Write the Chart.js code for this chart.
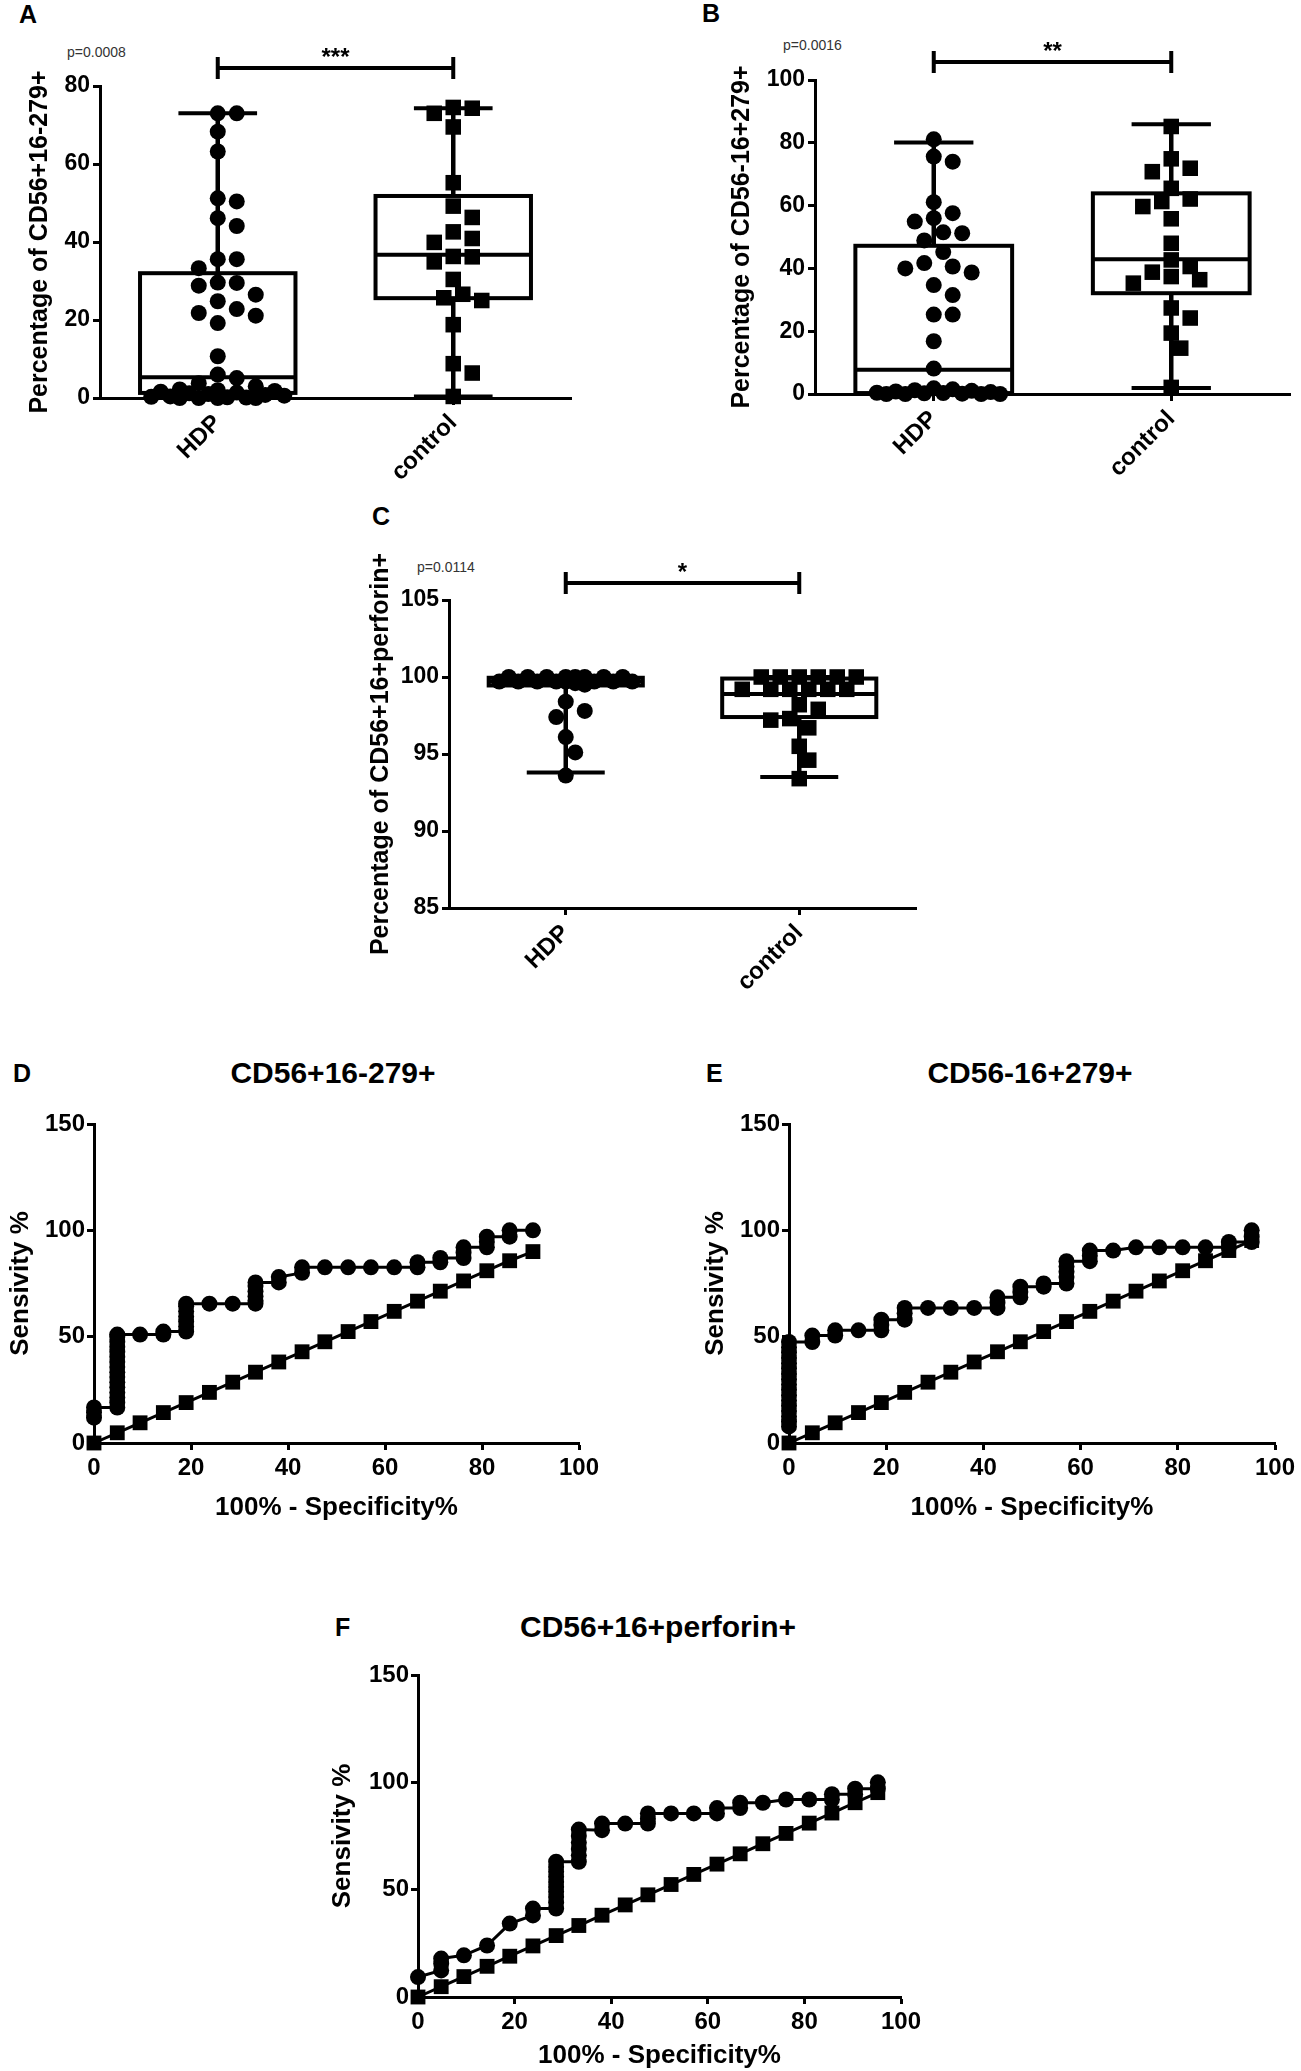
<!DOCTYPE html>
<html>
<head>
<meta charset="utf-8">
<script src="https://cdn.jsdelivr.net/npm/chart.js@4.4.1/dist/chart.umd.min.js"></script>
<style>
html, body { margin: 0; padding: 0; background: #fff; }
body { width: 1301px; height: 2071px; position: relative; overflow: hidden; font-family: 'Liberation Sans', Arial, sans-serif; color: #000; }
.panel { position: absolute; }
.letter { position: absolute; font-weight: bold; font-size: 25px; line-height: 1; }
.pval { position: absolute; font-size: 14px; line-height: 1; color: #333; }
.title { position: absolute; font-weight: bold; font-size: 30px; line-height: 1; white-space: nowrap; transform: translate(-50%, -50%); }
</style>
</head>
<body>

<div class="letter" style="left:19px;top:2px">A</div>
<div class="letter" style="left:702px;top:1px">B</div>
<div class="letter" style="left:372px;top:504px">C</div>
<div class="letter" style="left:13px;top:1061px">D</div>
<div class="letter" style="left:706px;top:1061px">E</div>
<div class="letter" style="left:335px;top:1615px">F</div>

<div class="pval" style="left:67px;top:45px">p=0.0008</div>
<div class="pval" style="left:783px;top:38px">p=0.0016</div>
<div class="pval" style="left:417px;top:560px">p=0.0114</div>

<div class="title" style="left:333px;top:1073px">CD56+16-279+</div>
<div class="title" style="left:1030px;top:1073px">CD56-16+279+</div>
<div class="title" style="left:658px;top:1627px">CD56+16+perforin+</div>

<div class="panel" id="wrapA"><canvas id="chartA"></canvas></div>
<div class="panel" id="wrapB"><canvas id="chartB"></canvas></div>
<div class="panel" id="wrapC"><canvas id="chartC"></canvas></div>
<div class="panel" id="wrapD"><canvas id="chartD"></canvas></div>
<div class="panel" id="wrapE"><canvas id="chartE"></canvas></div>
<div class="panel" id="wrapF"><canvas id="chartF"></canvas></div>

<script>
// ---- data ----
const groups = ['HDP', 'control'];

// A: CD56+16-279+
const pctA_hdp = [73, 73, 68.3, 63.2, 51.2, 50.4, 46.1, 44.1, 35.6, 35.6, 33.3, 29.6, 29.5, 28.8, 26.5,
    24.8, 22.8, 21.8, 21.1, 19.2, 10.7, 6.0, 5.1, 3.8, 3.0, 2.2, 2.0, 1.8, 1.6, 1.4, 1.2, 1.0, 0.8,
    0.6, 0.4, 0.3, 0.2, 0.1, 0, 0, 0, 0];
const pctA_control = [74.5, 74.3, 73.0, 69.5, 55.2, 49.2, 46.3, 42.6, 40.9, 39.9, 36.3, 36.2, 34.9,
    30.4, 26.6, 25.7, 25.0, 18.8, 8.8, 6.4, 0.4];
const boxA_hdp = [0, 1.3, 5.3, 32, 73];          // min, q1, median, q3, max
const boxA_control = [0.4, 25.6, 36.7, 51.8, 74.3];
const yTicksA = [0, 20, 40, 60, 80];
const sigA = 84.6;

// B: CD56-16+279+
const pctB_hdp = [81.1, 75.6, 74.0, 61.1, 57.6, 56.0, 54.9, 51.5, 51.2, 48.9, 45.2, 41.7, 40.6, 40.0,
    38.7, 34.7, 31.5, 25.3, 25.3, 16.8, 8.1, 1.8, 1.5, 1.2, 1.0, 0.8, 0.6, 0.4, 0.3, 0.2, 0.1, 0, 0, 0, 0];
const pctB_control = [85.2, 74.9, 71.9, 70.8, 65.5, 62.1, 61.3, 59.7, 55.8, 48.0, 42.7, 40.6, 38.8,
    37.4, 36.4, 35.3, 27.4, 24.2, 19.4, 14.6, 2.1];
const boxB_hdp = [0, 0.3, 7.7, 47.2, 80.1];
const boxB_control = [1.9, 32.1, 42.9, 63.9, 85.9];
const yTicksB = [0, 20, 40, 60, 80, 100];
const sigB = 105.7;

// C: CD56+16+perforin+
const pctC_hdp = [100, 100, 100, 100, 100, 100, 100, 100, 99.7, 99.7, 99.7, 99.7, 99.7, 99.7, 99.7,
    99.7, 99.6, 99.5, 98.4, 97.8, 97.4, 96.1, 95.1, 93.6];
const pctC_control = [100, 100, 100, 100, 100, 100, 99.2, 99.2, 99.2, 99.2, 99.2, 99.2, 98.2, 97.9,
    97.3, 97.2, 96.7, 95.5, 94.6, 93.4];
const boxC_hdp = [93.8, 99.45, 99.7, 99.95, 100];
const boxC_control = [93.5, 97.4, 98.9, 99.9, 100];
const yTicksC = [85, 90, 95, 100, 105];
const sigC = 106.1;

// ROC curves: 100% - specificity (x) and sensitivity (y)
const rocD_x = [0, 0, 0, 4.8, 4.8, 4.8, 4.8, 4.8, 4.8, 4.8, 4.8, 4.8, 4.8, 4.8, 4.8, 4.8, 4.8, 4.8, 4.8,
    9.5, 14.3, 14.3, 19, 19, 19, 19, 19, 19, 19, 23.8, 28.6, 33.3, 33.3, 33.3, 33.3, 33.3, 33.3,
    38.1, 38.1, 42.9, 42.9, 47.6, 52.4, 57.1, 61.9, 66.7, 66.7, 71.4, 71.4, 76.2, 76.2, 76.2,
    81, 81, 81, 85.7, 85.7, 90.5];
const rocD_y = [11.9, 14.3, 16.7, 16.7, 19, 21.4, 23.8, 26.2, 28.6, 31, 33.3, 35.7, 38.1, 40.5, 42.9,
    45.2, 47.6, 50, 51, 51, 51, 52.4, 52.4, 54.8, 57.1, 59.5, 61.9, 64.3, 65.5, 65.5, 65.5, 65.5,
    67, 69, 71.4, 73.8, 75.5, 75.5, 78, 80, 82.6, 82.6, 82.6, 82.6, 82.6, 82.6, 85, 85, 87, 87,
    89.5, 92, 92, 94.5, 97, 97, 100, 100];
const refD_x = [0, 4.8, 9.5, 14.3, 19, 23.8, 28.6, 33.3, 38.1, 42.9, 47.6, 52.4, 57.1, 61.9, 66.7,
    71.4, 76.2, 81, 85.7, 90.5];
const refD_y = [0, 4.8, 9.5, 14.3, 19, 23.8, 28.6, 33.3, 38.1, 42.9, 47.6, 52.4, 57.1, 61.9, 66.7,
    71.4, 76.2, 81, 85.7, 90];

const rocE_x = [0, 0, 0, 0, 0, 0, 0, 0, 0, 0, 0, 0, 0, 0, 0, 0, 0, 4.8, 4.8, 9.5, 9.5, 14.3, 19, 19, 19,
    23.8, 23.8, 23.8, 28.6, 33.3, 38.1, 42.9, 42.9, 42.9, 47.6, 47.6, 47.6, 52.4, 52.4,
    57.1, 57.1, 57.1, 57.1, 57.1, 61.9, 61.9, 61.9, 66.7, 71.4, 76.2, 81, 85.7, 90.5, 90.5,
    95.2, 95.2, 95.2];
const rocE_y = [7.8, 10, 12.5, 15, 17.5, 20, 22.5, 25, 27.5, 30, 32.5, 35, 37.5, 40, 42.5, 45, 47.5,
    47.5, 50.5, 50.5, 53, 53, 53, 55.5, 58, 58, 61, 63.5, 63.5, 63.5, 63.5, 63.5, 66, 68.5,
    68.5, 71, 73.5, 73.5, 75, 75, 78, 80.5, 83, 85.5, 85.5, 88, 90.5, 90.5, 92, 92, 92, 92,
    92, 94.5, 94.5, 97, 100];
const refEF_x = [0, 4.8, 9.5, 14.3, 19, 23.8, 28.6, 33.3, 38.1, 42.9, 47.6, 52.4, 57.1, 61.9, 66.7,
    71.4, 76.2, 81, 85.7, 90.5, 95.2];
const refEF_y = [0, 4.8, 9.5, 14.3, 19, 23.8, 28.6, 33.3, 38.1, 42.9, 47.6, 52.4, 57.1, 61.9, 66.7,
    71.4, 76.2, 81, 85.7, 90.5, 95.2];

const rocF_x = [0, 4.8, 4.8, 4.8, 9.5, 14.3, 19, 23.8, 23.8, 28.6, 28.6, 28.6, 28.6, 28.6, 28.6, 28.6,
    28.6, 28.6, 28.6, 33.3, 33.3, 33.3, 33.3, 33.3, 33.3, 38.1, 38.1, 42.9, 47.6, 47.6, 47.6,
    52.4, 57.1, 61.9, 61.9, 66.7, 66.7, 71.4, 76.2, 81, 85.7, 85.7, 90.5, 90.5, 95.2, 95.2];
const rocF_y = [9.3, 12.4, 15.5, 17.9, 19.4, 24, 34.2, 38, 41.2, 41.2, 44, 46.6, 49, 51.3, 53.6, 56,
    58.3, 60.6, 63, 63, 66, 69, 72, 75, 78, 77.7, 80.8, 80.8, 80.8, 83, 85.5, 85.5, 85.5, 85.5,
    88, 88, 90.5, 90.5, 92, 92, 92, 94.5, 94.5, 97, 97, 100];

const rocXTicks = [0, 20, 40, 60, 80, 100];
const rocYTicks = [0, 50, 100, 150];

// ---- chart setup ----
Chart.defaults.animation = false;
Chart.defaults.color = '#000';
Chart.defaults.font.family = "'Liberation Sans', Arial, sans-serif";
Chart.defaults.plugins.legend.display = false;
Chart.defaults.plugins.tooltip.enabled = false;

const FONT = "'Liberation Sans', Arial, sans-serif";

function placeWrap(id, g) {
    const el = document.getElementById(id);
    el.style.left = g.cl + 'px';
    el.style.top = g.ct + 'px';
    el.style.width = g.cw + 'px';
    el.style.height = g.ch + 'px';
}

// spread points sideways so they don't sit on top of each other
function swarm(values, center, xpx, ypx, diam) {
    const step = 9.5;
    const placed = [];
    const out = new Array(values.length);
    const order = values.map((v, i) => i).sort((a, b) => values[b] - values[a]);
    order.forEach(i => {
        const py = values[i] * ypx;
        let best = 0, bestD = -1;
        for (let k = 0; k <= 14; k++) {
            const off = (k % 2 ? 1 : -1) * Math.ceil(k / 2) * step;
            let dmin = Infinity;
            placed.forEach(p => { dmin = Math.min(dmin, Math.hypot(p.px - off, p.py - py)); });
            if (dmin >= diam) { best = off; break; }
            if (dmin > bestD) { bestD = dmin; best = off; }
        }
        placed.push({ px: best, py: py });
        out[i] = { x: center + best / xpx, y: values[i] };
    });
    return out;
}

const boxPlugin = {
    id: 'boxes',
    beforeDatasetsDraw(chart, args, opts) {
        if (!opts.stats) return;
        const ctx = chart.ctx;
        const x = chart.scales.x, y = chart.scales.y;
        ctx.save();
        ctx.strokeStyle = '#000';
        ctx.lineCap = 'butt';
        opts.stats.forEach((s, i) => {
            const cx = x.getPixelForValue(i + 1);
            const hw = x.getPixelForValue(i + 1 + opts.boxHalf) - cx;
            const cw = x.getPixelForValue(i + 1 + opts.capHalf) - cx;
            const mn = y.getPixelForValue(s[0]), q1 = y.getPixelForValue(s[1]);
            const md = y.getPixelForValue(s[2]), q3 = y.getPixelForValue(s[3]);
            const mx = y.getPixelForValue(s[4]);
            ctx.lineWidth = 4.5;
            ctx.beginPath();
            ctx.moveTo(cx, q3); ctx.lineTo(cx, mx);
            ctx.moveTo(cx, q1); ctx.lineTo(cx, mn);
            ctx.stroke();
            ctx.lineWidth = 4;
            ctx.beginPath();
            ctx.moveTo(cx - cw, mx); ctx.lineTo(cx + cw, mx);
            ctx.moveTo(cx - cw, mn); ctx.lineTo(cx + cw, mn);
            ctx.moveTo(cx - hw, md); ctx.lineTo(cx + hw, md);
            ctx.stroke();
            ctx.strokeRect(cx - hw, q3, hw * 2, q1 - q3);
        });
        ctx.restore();
    },
    afterDatasetsDraw(chart, args, opts) {
        if (!opts.stars) return;
        const ctx = chart.ctx;
        const x = chart.scales.x, y = chart.scales.y;
        const x1 = x.getPixelForValue(1), x2 = x.getPixelForValue(2);
        const by = y.getPixelForValue(opts.sig);
        ctx.save();
        // end caps of the significance bar
        ctx.strokeStyle = '#000';
        ctx.lineWidth = 4;
        ctx.beginPath();
        ctx.moveTo(x1, by - 11); ctx.lineTo(x1, by + 11);
        ctx.moveTo(x2, by - 11); ctx.lineTo(x2, by + 11);
        ctx.stroke();
        ctx.fillStyle = '#000';
        ctx.font = 'bold 24px ' + FONT;
        ctx.textAlign = 'center';
        ctx.textBaseline = 'alphabetic';
        ctx.fillText(opts.stars, (x1 + x2) / 2, by - 3);
        ctx.restore();
    }
};
Chart.register(boxPlugin);

function axisCommon(ticks, fontSize) {
    return {
        afterBuildTicks: s => { s.ticks = ticks.map(v => ({ value: v })); },
        border: { display: true, color: '#000', width: 3 },
        grid: { display: true, drawOnChartArea: false, drawTicks: true, tickLength: 7, tickWidth: 3, color: '#000' },
        ticks: { color: '#000', autoSkip: false, font: { size: fontSize, weight: 'bold', family: FONT } }
    };
}

function boxChart(id, g, yTicks, yTitle, hdp, control, stats, sig, stars) {
    placeWrap('wrap' + id, g);
    const ymin = yTicks[0], ymax = yTicks[yTicks.length - 1];
    const xpx = (g.r - g.l) / 2;
    const ypx = (g.b - g.t) / (ymax - ymin);
    const yAxis = axisCommon(yTicks, 23);
    Object.assign(yAxis, {
        type: 'linear', min: ymin, max: ymax,
        afterFit: s => { s.width = g.l - g.cl; },
        title: { display: true, text: yTitle, color: '#000', font: { size: 25, weight: 'bold', family: FONT },
            padding: { top: g.titleX - g.cl - 15, bottom: 0 } }
    });
    yAxis.ticks.padding = 3;
    const xAxis = axisCommon([1, 2], 24);
    Object.assign(xAxis, {
        type: 'linear', min: 0.5, max: 2.5,
        afterFit: s => { s.height = g.ct + g.ch - g.b; }
    });
    Object.assign(xAxis.ticks, { callback: v => groups[v - 1], minRotation: 45, maxRotation: 45, padding: 4 });

    new Chart(document.getElementById('chart' + id), {
        type: 'scatter',
        data: {
            datasets: [
                {
                    data: swarm(hdp.map(v => v - ymin), 1, xpx, ypx, 15.5).map(p => ({ x: p.x, y: p.y + ymin })),
                    pointStyle: 'circle', pointRadius: 8, backgroundColor: '#000', borderWidth: 0, clip: false
                },
                {
                    data: swarm(control.map(v => v - ymin), 2, xpx, ypx, 16).map(p => ({ x: p.x, y: p.y + ymin })),
                    pointStyle: 'rect', pointRadius: 11, backgroundColor: '#000', borderWidth: 0, clip: false
                },
                {
                    data: [{ x: 1, y: sig }, { x: 2, y: sig }],
                    showLine: true, borderColor: '#000', borderWidth: 4, pointRadius: 0, clip: false
                }
            ]
        },
        options: {
            responsive: true,
            maintainAspectRatio: false,
            events: [],
            layout: { padding: { left: 0, top: g.t - g.ct, right: g.cl + g.cw - g.r, bottom: 0 } },
            scales: { x: xAxis, y: yAxis },
            plugins: { boxes: { stats: stats, boxHalf: 0.33, capHalf: 0.167, sig: sig, stars: stars } }
        }
    });
}

function rocChart(id, g, cx, cy, rx, ry) {
    placeWrap('wrap' + id, g);
    const yAxis = axisCommon(rocYTicks, 24);
    Object.assign(yAxis, {
        type: 'linear', min: 0, max: 150,
        afterFit: s => { s.width = g.l - g.cl; },
        title: { display: true, text: 'Sensivity %', color: '#000', font: { size: 26, weight: 'bold', family: FONT },
            padding: { top: Math.max(0, g.titleX - g.cl - 15.6), bottom: 0 } }
    });
    yAxis.ticks.padding = 2;
    const xAxis = axisCommon(rocXTicks, 24);
    Object.assign(xAxis, {
        type: 'linear', min: 0, max: 100,
        afterFit: s => { s.height = g.ct + g.ch - g.b; },
        title: { display: true, text: '100% - Specificity%', color: '#000', font: { size: 26, weight: 'bold', family: FONT },
            padding: { top: 0, bottom: Math.max(0, g.ct + g.ch - g.xTitleY - 15.6) } }
    });
    xAxis.ticks.padding = 4;

    new Chart(document.getElementById('chart' + id), {
        type: 'scatter',
        data: {
            datasets: [
                {
                    data: rx.map((v, i) => ({ x: v, y: ry[i] })),
                    showLine: true, borderColor: '#000', borderWidth: 3,
                    pointStyle: 'rect', pointRadius: 10.5, backgroundColor: '#000', pointBorderWidth: 0, clip: false
                },
                {
                    data: cx.map((v, i) => ({ x: v, y: cy[i] })),
                    showLine: true, borderColor: '#000', borderWidth: 3,
                    pointStyle: 'circle', pointRadius: 8, backgroundColor: '#000', pointBorderWidth: 0, clip: false
                }
            ]
        },
        options: {
            responsive: true,
            maintainAspectRatio: false,
            events: [],
            layout: { padding: { left: 0, top: g.t - g.ct, right: g.cl + g.cw - g.r, bottom: 0 } },
            scales: { x: xAxis, y: yAxis }
        }
    });
}

// panel geometry in page pixels
const geoA = { cl: 0, ct: 0, cw: 640, ch: 500, l: 100, t: 86, r: 571, b: 398, titleX: 40 };
const geoB = { cl: 650, ct: 0, cw: 651, ch: 500, l: 815, t: 80, r: 1291, b: 394, titleX: 742 };
const geoC = { cl: 330, ct: 490, cw: 640, ch: 500, l: 449, t: 600, r: 916, b: 908, titleX: 381 };
const geoD = { cl: 0, ct: 1030, cw: 640, ch: 500, l: 94, t: 1124, r: 579, b: 1443, titleX: 21, xTitleY: 1508 };
const geoE = { cl: 680, ct: 1030, cw: 621, ch: 500, l: 789, t: 1124, r: 1275, b: 1443, titleX: 716, xTitleY: 1508 };
const geoF = { cl: 320, ct: 1580, cw: 640, ch: 491, l: 418, t: 1675, r: 901, b: 1997, titleX: 343, xTitleY: 2056 };

boxChart('A', geoA, yTicksA, 'Percentage of CD56+16-279+', pctA_hdp, pctA_control, [boxA_hdp, boxA_control], sigA, '***');
boxChart('B', geoB, yTicksB, 'Percentage of CD56-16+279+', pctB_hdp, pctB_control, [boxB_hdp, boxB_control], sigB, '**');
boxChart('C', geoC, yTicksC, 'Percentage of CD56+16+perforin+', pctC_hdp, pctC_control, [boxC_hdp, boxC_control], sigC, '*');
rocChart('D', geoD, rocD_x, rocD_y, refD_x, refD_y);
rocChart('E', geoE, rocE_x, rocE_y, refEF_x, refEF_y);
rocChart('F', geoF, rocF_x, rocF_y, refEF_x, refEF_y);
</script>
</body>
</html>
